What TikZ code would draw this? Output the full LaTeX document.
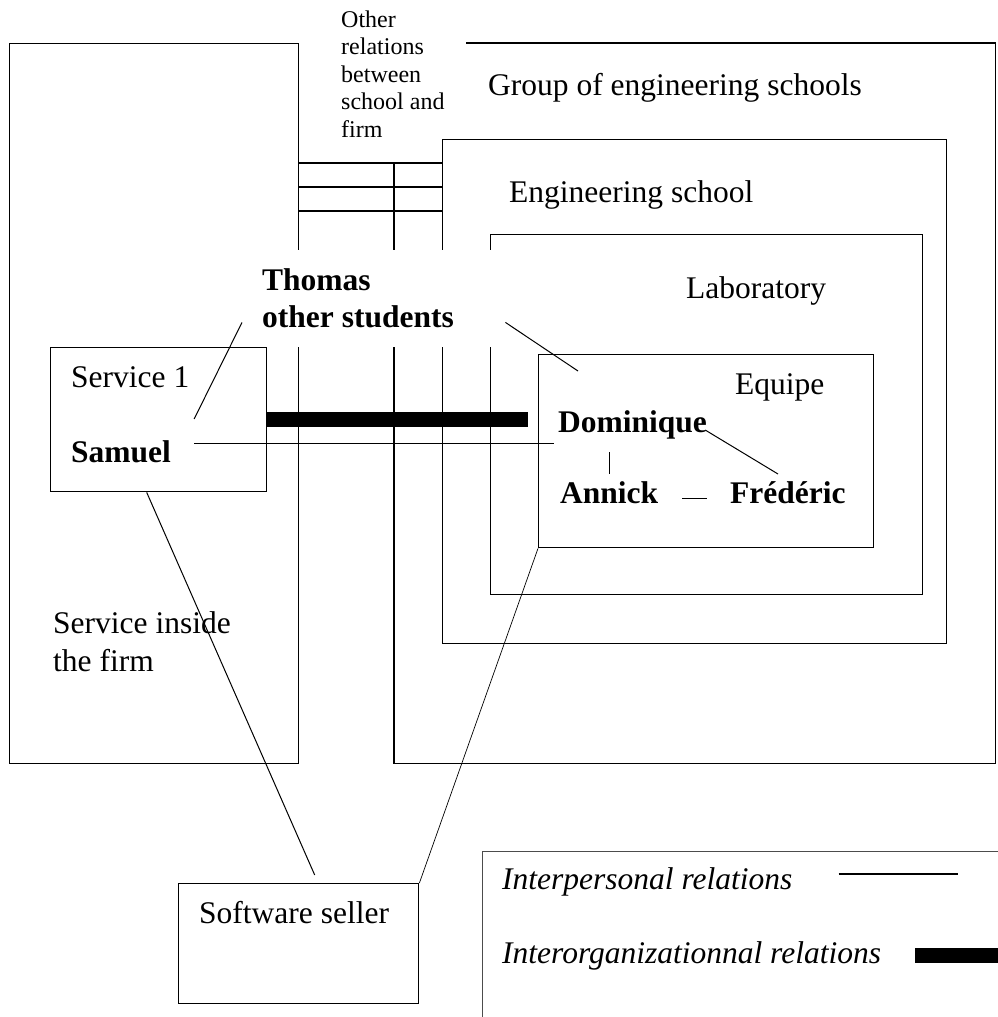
\documentclass[tikz,border=0pt]{standalone}
\usepackage{fontspec}
\setmainfont{Liberation Serif}
\tikzset{
    orgbox/.style={draw, line width=1.4pt, inner sep=0pt, anchor=north west},
    blankbox/.style={fill=white, inner sep=0pt, anchor=north west},
    txt/.style={inner sep=0pt, anchor=base west, font=\fontsize{31.5}{37.5}\selectfont},
    who/.style={txt, font=\fontsize{31.5}{37}\selectfont\bfseries},
    tinytxt/.style={txt, align=left, font=\fontsize{24}{27.5}\selectfont},
    leg/.style={txt, font=\fontsize{31.5}{37}\selectfont\itshape},
    link/.style={line width=1pt},
    orglink/.style={line width=15pt},
}
\begin{document}
\begin{tikzpicture}[x=1pt, y=-1pt]
    \useasboundingbox (0, 0) rectangle (998, 1017);
    % organisations
    \node[orgbox, minimum width=289, minimum height=720] (firm) at (9, 43) {};
    \node[orgbox, draw=none, minimum width=600, minimum height=719] (group) at (394, 43) {};
    \draw[line width=1.4pt] ([xshift=72pt]group.north west) -| (group.south east) -| (group.west |- 0,163);
    \node[orgbox, minimum width=504, minimum height=504] (school) at (442, 139) {};
    \node[orgbox, minimum width=432, minimum height=360] (lab) at (490, 234) {};
    \node[orgbox, minimum width=335, minimum height=193] (team) at (538, 354) {};
    \node[orgbox, minimum width=216, minimum height=144] (service) at (50, 347) {};
    \node[orgbox, minimum width=240, minimum height=120] (seller) at (178, 883) {};
    % labels
    \node[txt] (grouplabel) at (488, 95) {Group of engineering schools};
    \node[txt] (schoollabel) at (509, 202) {Engineering school};
    \node[txt] (lablabel) at (686, 298) {Laboratory};
    \node[txt] (teamlabel) at (735, 394) {Equipe};
    \node[txt] (servicelabel) at (71, 387) {Service 1};
    \node[txt, align=left] (firmlabel) at (53, 671) {Service inside\\the firm};
    \node[txt] (sellerlabel) at (199, 923) {Software seller};
    % other relations between school and firm
    \node[tinytxt] (other) at (341, 137) {Other\\relations\\between\\school and\\firm};
    \foreach \y in {163, 187, 211}
        \draw[line width=1.2pt] (firm.east |- 0,\y) -- (school.west |- 0,\y);
    % students, over the frames
    \node[blankbox, minimum width=261, minimum height=97] (studentsbg) at (243, 250) {};
    \node[who, align=left] (students) at (262, 327) {Thomas\\other students};
    % people
    \node[who] (samuel) at (71, 462) {Samuel};
    \node[who] (dominique) at (558, 432) {Dominique};
    \node[who] (annick) at (560, 503) {Annick};
    \node[who] (frederic) at (730, 503) {Frédéric};
    % relations
    \draw[orglink] (service.east) -- ([xshift=-10pt]team.west |- service.east);
    \draw[link] ([shift={(-1,-25)}]studentsbg.south west) -- ([shift={(23,-43)}]samuel.base east);
    \draw[link] ([shift={(1,-25)}]studentsbg.south east) -- ([shift={(40,17)}]team.north west);
    \draw[link] ([shift={(23,-19)}]samuel.base east) -- ([shift={(-4,11)}]dominique.base west);
    \draw[link] ([shift={(51,20)}]dominique.base west) -- ([shift={(49,-29)}]annick.base west);
    \draw[link] ([shift={(-2,-2)}]dominique.base east) -- ([shift={(48,-29)}]frederic.base west);
    \draw[link] ([shift={(24,-5)}]annick.base east) -- ([shift={(-23,-5)}]frederic.base west);
    \draw[link] ([xshift=-12pt]service.south) -- ([shift={(16,-8)}]seller.north);
    \draw[line width=0.7pt] (team.south west) -- (seller.north east);
    % legend
    \draw[line width=0.8pt, black!70] (482, 1017) |- (998, 851);
    \node[leg] (interpers) at (502, 889) {Interpersonal relations};
    \node[leg] (interorg) at (502, 963) {Interorganizationnal relations};
    \draw[link, line width=1.3pt] ([shift={(46,-15)}]interpers.base east) -- ++(119, 0);
    \draw[orglink] ([shift={(34,-8)}]interorg.base east) -- (998, 955);
\end{tikzpicture}
\end{document}
